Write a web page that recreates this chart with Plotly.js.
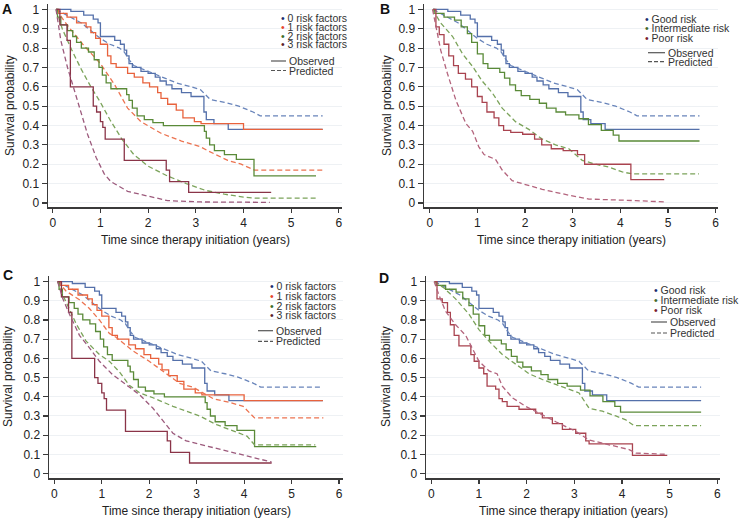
<!DOCTYPE html>
<html>
<head>
<meta charset="utf-8">
<script src="https://cdn.plot.ly/plotly-3.0.1.min.js"></script>
<style>
  html, body { margin: 0; padding: 0; background: #fff; }
  #chart { width: 739px; height: 518px; }
</style>
</head>
<body>
<div id="chart"></div>
<script>
// ---- data (time in years, survival probability) ----
const panelLetters = ['A', 'B', 'C', 'D'];
const riskFactorLabels = ['0 risk factors', '1 risk factors', '2 risk factors', '3 risk factors'];
const riskGroupLabels = ['Good risk', 'Intermediate risk', 'Poor risk'];
const lineStyleLabels = ['Observed', 'Predicted'];
const xAxisTitle = 'Time since therapy initiation (years)';
const yAxisTitle = 'Survival probability';

// observed, good risk / 0 risk factors (same cohort in all panels)
const obsGoodT = [0.07, 0.38, 0.65, 0.85, 0.95, 1.0, 1.3, 1.42, 1.5, 1.55, 1.6, 1.67, 1.85, 2.0, 2.15, 2.25, 2.38, 2.5, 2.7, 2.9, 3.17, 3.22, 3.38, 3.68, 5.66];
const obsGoodS = [1.0, 0.99, 0.97, 0.95, 0.93, 0.86, 0.84, 0.82, 0.79, 0.76, 0.72, 0.70, 0.68, 0.67, 0.65, 0.63, 0.61, 0.59, 0.57, 0.55, 0.47, 0.43, 0.41, 0.38, 0.38];
const predGoodT = [0.07, 0.3, 0.6, 0.9, 1.0, 1.2, 1.4, 1.5, 1.6, 1.7, 2.0, 2.3, 2.6, 2.9, 3.1, 3.2, 3.3, 3.6, 3.9, 4.2, 4.35, 5.66];
const predGoodS = [1.0, 0.97, 0.93, 0.87, 0.85, 0.82, 0.80, 0.78, 0.74, 0.71, 0.68, 0.65, 0.62, 0.60, 0.585, 0.56, 0.535, 0.52, 0.50, 0.47, 0.45, 0.45];

// observed, 1 / 2 / 3 risk factors
const obs1T = [0.07, 0.12, 0.3, 0.5, 0.7, 0.8, 0.9, 1.0, 1.15, 1.22, 1.33, 1.57, 1.71, 1.89, 2.03, 2.2, 2.27, 2.41, 2.59, 2.73, 2.97, 3.11, 4.0, 5.66];
const obs1S = [1.0, 0.98, 0.96, 0.93, 0.91, 0.88, 0.85, 0.82, 0.76, 0.72, 0.70, 0.67, 0.65, 0.62, 0.60, 0.57, 0.54, 0.51, 0.48, 0.44, 0.42, 0.41, 0.38, 0.38];
const obs2T = [0.07, 0.1, 0.17, 0.31, 0.42, 0.5, 0.6, 0.75, 0.87, 0.97, 1.04, 1.12, 1.22, 1.55, 1.6, 1.67, 1.77, 1.92, 2.1, 2.32, 3.18, 3.22, 3.29, 3.39, 3.6, 3.85, 4.22, 5.52];
const obs2S = [1.0, 0.96, 0.92, 0.89, 0.86, 0.83, 0.80, 0.78, 0.74, 0.70, 0.66, 0.62, 0.59, 0.56, 0.53, 0.49, 0.45, 0.43, 0.415, 0.40, 0.37, 0.335, 0.30, 0.27, 0.25, 0.225, 0.14, 0.14];
const obs3T = [0.07, 0.15, 0.3, 0.37, 0.85, 0.92, 1.0, 1.05, 1.1, 1.5, 2.38, 2.45, 2.85, 4.58];
const obs3S = [1.0, 0.92, 0.84, 0.6, 0.5, 0.47, 0.42, 0.39, 0.33, 0.22, 0.17, 0.11, 0.055, 0.055];

// predicted, original model (panel A)
const predA1T = [0.07, 0.3, 0.63, 1.0, 1.3, 1.57, 1.85, 2.27, 2.7, 3.1, 3.25, 3.67, 3.95, 4.23, 5.66];
const predA1S = [1.0, 0.92, 0.82, 0.72, 0.61, 0.49, 0.42, 0.36, 0.32, 0.29, 0.27, 0.22, 0.20, 0.17, 0.17];
const predA2T = [0.07, 0.2, 0.4, 0.6, 0.8, 1.0, 1.2, 1.45, 1.7, 2.0, 2.4, 2.8, 3.2, 3.6, 4.0, 4.25, 5.52];
const predA2S = [1.0, 0.9, 0.79, 0.69, 0.6, 0.52, 0.43, 0.33, 0.25, 0.19, 0.14, 0.1, 0.065, 0.045, 0.03, 0.025, 0.025];
const predA3T = [0.07, 0.17, 0.31, 0.52, 0.73, 0.91, 1.08, 1.22, 1.57, 2.0, 2.41, 3.1, 4.55];
const predA3S = [1.0, 0.84, 0.70, 0.53, 0.355, 0.235, 0.15, 0.11, 0.06, 0.035, 0.012, 0.005, 0.003];

// predicted, recalibrated model (panel C)
const predC1T = [0.07, 0.25, 0.53, 0.74, 0.95, 1.16, 1.3, 1.65, 2.0, 2.36, 2.64, 2.92, 3.06, 3.35, 3.7, 3.98, 4.22, 5.67];
const predC1S = [1.0, 0.95, 0.905, 0.86, 0.80, 0.73, 0.71, 0.64, 0.585, 0.52, 0.47, 0.45, 0.43, 0.39, 0.37, 0.35, 0.29, 0.29];
const predC2T = [0.07, 0.18, 0.46, 0.67, 0.95, 1.16, 1.37, 1.58, 1.8, 2.08, 2.5, 2.78, 3.06, 3.42, 3.77, 4.06, 4.22, 5.5];
const predC2S = [1.0, 0.93, 0.78, 0.69, 0.62, 0.585, 0.53, 0.46, 0.42, 0.395, 0.35, 0.325, 0.30, 0.255, 0.22, 0.195, 0.15, 0.15];
const predC3T = [0.07, 0.18, 0.32, 0.53, 0.74, 0.95, 1.23, 1.51, 1.8, 2.08, 2.36, 2.5, 2.78, 3.2, 3.77, 4.19, 4.58];
const predC3S = [1.0, 0.91, 0.83, 0.72, 0.655, 0.585, 0.515, 0.465, 0.41, 0.34, 0.255, 0.21, 0.17, 0.145, 0.11, 0.085, 0.06];

// observed, intermediate / poor risk groups
const obsIntT = [0.07, 0.1, 0.3, 0.52, 0.66, 0.79, 0.88, 1.0, 1.12, 1.22, 1.47, 1.57, 1.68, 1.8, 1.92, 2.1, 2.3, 2.45, 2.65, 2.85, 3.13, 3.33, 3.6, 3.85, 3.97, 5.66];
const obsIntS = [1.0, 0.98, 0.96, 0.945, 0.91, 0.875, 0.83, 0.77, 0.72, 0.695, 0.675, 0.645, 0.61, 0.58, 0.555, 0.535, 0.515, 0.49, 0.47, 0.455, 0.435, 0.405, 0.375, 0.35, 0.32, 0.32];
const obsPoorBT = [0.07, 0.13, 0.2, 0.3, 0.4, 0.5, 0.6, 0.75, 0.88, 1.0, 1.1, 1.2, 1.35, 1.45, 1.55, 1.7, 1.95, 2.2, 2.35, 2.55, 2.8, 3.1, 3.25, 4.22, 4.92];
const obsPoorBS = [1.0, 0.91, 0.87, 0.82, 0.76, 0.71, 0.67, 0.64, 0.60, 0.55, 0.52, 0.47, 0.44, 0.40, 0.375, 0.365, 0.355, 0.33, 0.30, 0.28, 0.27, 0.25, 0.20, 0.12, 0.12];
const obsPoorDT = [0.07, 0.12, 0.23, 0.34, 0.4, 0.48, 0.58, 0.83, 0.9, 1.0, 1.1, 1.17, 1.35, 1.42, 1.49, 1.59, 1.84, 2.19, 2.33, 2.54, 2.75, 3.03, 3.24, 3.31, 4.22, 4.95];
const obsPoorDS = [1.0, 0.91, 0.89, 0.84, 0.775, 0.72, 0.665, 0.62, 0.585, 0.55, 0.52, 0.455, 0.44, 0.39, 0.375, 0.35, 0.335, 0.315, 0.29, 0.26, 0.23, 0.21, 0.17, 0.155, 0.095, 0.095];

// predicted, risk groups (B = original, D = recalibrated)
const predBIntT = [0.06, 0.23, 0.48, 0.69, 0.9, 1.1, 1.31, 1.52, 1.8, 2.08, 2.36, 2.64, 2.92, 3.2, 3.48, 3.76, 4.04, 4.25, 5.65];
const predBIntS = [1.0, 0.93, 0.86, 0.77, 0.705, 0.63, 0.57, 0.49, 0.42, 0.38, 0.33, 0.30, 0.28, 0.22, 0.20, 0.185, 0.16, 0.15, 0.15];
const predBPoorT = [0.06, 0.13, 0.23, 0.37, 0.55, 0.76, 0.9, 1.03, 1.14, 1.38, 1.52, 1.73, 2.01, 2.36, 2.92, 3.34, 4.32, 4.95];
const predBPoorS = [1.0, 0.91, 0.79, 0.67, 0.53, 0.41, 0.37, 0.29, 0.25, 0.225, 0.17, 0.115, 0.095, 0.07, 0.04, 0.02, 0.012, 0.005];
const predDIntT = [0.06, 0.25, 0.51, 0.79, 1.0, 1.21, 1.49, 1.77, 2.05, 2.33, 2.61, 2.89, 3.1, 3.31, 3.59, 3.87, 4.08, 4.25, 5.66];
const predDIntS = [1.0, 0.97, 0.91, 0.83, 0.75, 0.69, 0.62, 0.57, 0.52, 0.49, 0.465, 0.44, 0.42, 0.34, 0.325, 0.30, 0.28, 0.25, 0.25];
const predDPoorT = [0.06, 0.16, 0.3, 0.51, 0.72, 0.86, 1.0, 1.21, 1.38, 1.49, 1.7, 1.98, 2.33, 2.61, 3.03, 3.31, 3.73, 4.15, 4.29, 4.95];
const predDPoorS = [1.0, 0.93, 0.845, 0.775, 0.72, 0.655, 0.585, 0.535, 0.52, 0.455, 0.395, 0.35, 0.305, 0.27, 0.22, 0.175, 0.15, 0.125, 0.107, 0.10];

// ---- styling ----
const W = 739, H = 518;
const FONT = 'Liberation Sans, Arial, Helvetica, sans-serif';
const px = (v) => v / W;
const py = (v) => 1 - v / H;

const C_BLUE = '#5470aa', C_BLUE_D = '#6884ba';
const C_ORANGE = '#e8623c', C_ORANGE_D = '#ec7350';
const C_GREEN = '#5a8a38', C_GREEN_D = '#7ba35a';
const C_MAROON = '#8a3448', C_PURPLE_D = '#9c5a7c';
const C_RED = '#a9434f', C_RED_D = '#b3637c';

// pixel geometry of each panel (axis box), plus where the legend sits
const panels = [
  { xa: 'x',  ya: 'y',  left: 48,  right: 342, top: 4,   bottom: 207, xr: [-0.099, 6.065], yr: [-0.021, 1.028],
    letter: [7, 9], xt: [195, 240], yt: [10, 106], dotX: 279.5, rows: [18.3, 26.7, 35.5, 44.0], lineX: [271, 286], styleY: [61, 70.5],
    labels: riskFactorLabels, dots: ['#1d2f6f', '#e8452c', '#3f6e2a', '#5c1f2d'] },
  { xa: 'x2', ya: 'y2', left: 424, right: 718, top: 4,   bottom: 207, xr: [-0.12, 6.048], yr: [-0.021, 1.028],
    letter: [385, 9], xt: [571, 240], yt: [387, 106], dotX: 644, rows: [19, 28, 37.7], lineX: [648, 665], styleY: [52.7, 61.7],
    labels: riskGroupLabels, dots: ['#1d2f6f', '#44692a', '#7a2030'] },
  { xa: 'x3', ya: 'y3', left: 49,  right: 343, top: 276, bottom: 478, xr: [-0.112, 6.084], yr: [-0.023, 1.029],
    letter: [8, 275], xt: [196, 511], yt: [8, 377], dotX: 268.7, rows: [286.3, 296.3, 306.3, 315.3], lineX: [258, 273], styleY: [330.7, 341.3],
    labels: riskFactorLabels, dots: ['#1d2f6f', '#e8452c', '#3f6e2a', '#5c1f2d'] },
  { xa: 'x4', ya: 'y4', left: 426, right: 720, top: 276, bottom: 478, xr: [-0.111, 6.056], yr: [-0.023, 1.029],
    letter: [384, 278], xt: [573, 511], yt: [386, 377], dotX: 653, rows: [290.3, 299.7, 309.7], lineX: [651, 667], styleY: [322, 333],
    labels: riskGroupLabels, dots: ['#1d2f6f', '#44692a', '#7a2030'] },
];

// which curves go in which panel: [t, s, color, dashed]
const curves = [
  [[obsGoodT, obsGoodS, C_BLUE, false], [predGoodT, predGoodS, C_BLUE_D, true],
   [obs1T, obs1S, C_ORANGE, false], [predA1T, predA1S, C_ORANGE_D, true],
   [obs2T, obs2S, C_GREEN, false], [predA2T, predA2S, C_GREEN_D, true],
   [obs3T, obs3S, C_MAROON, false], [predA3T, predA3S, C_PURPLE_D, true]],
  [[obsGoodT, obsGoodS, C_BLUE, false], [predGoodT, predGoodS, C_BLUE_D, true],
   [obsIntT, obsIntS, C_GREEN, false], [predBIntT, predBIntS, C_GREEN_D, true],
   [obsPoorBT, obsPoorBS, C_RED, false], [predBPoorT, predBPoorS, C_RED_D, true]],
  [[obsGoodT, obsGoodS, C_BLUE, false], [predGoodT, predGoodS, C_BLUE_D, true],
   [obs1T, obs1S, C_ORANGE, false], [predC1T, predC1S, C_ORANGE_D, true],
   [obs2T, obs2S, C_GREEN, false], [predC2T, predC2S, C_GREEN_D, true],
   [obs3T, obs3S, C_MAROON, false], [predC3T, predC3S, C_PURPLE_D, true]],
  [[obsGoodT, obsGoodS, C_BLUE, false], [predGoodT, predGoodS, C_BLUE_D, true],
   [obsIntT, obsIntS, C_GREEN, false], [predDIntT, predDIntS, C_GREEN_D, true],
   [obsPoorDT, obsPoorDS, C_RED, false], [predDPoorT, predDPoorS, C_RED_D, true]],
];

const traces = [];
const layout = {
  width: W, height: H,
  margin: { l: 0, r: 0, t: 0, b: 0 },
  paper_bgcolor: '#fff', plot_bgcolor: '#fff',
  showlegend: false,
  font: { family: FONT, size: 12, color: '#222' },
  annotations: [],
  shapes: [],
};

panels.forEach((p, i) => {
  curves[i].forEach(([t, s, color, dashed]) => {
    traces.push({
      x: t, y: s, xaxis: p.xa, yaxis: p.ya,
      type: 'scatter', mode: 'lines',
      line: { color: color, width: 1.3, shape: dashed ? 'linear' : 'hv', dash: dashed ? '5px,3px' : 'solid' },
      hoverinfo: 'skip',
    });
  });

  const suffix = i === 0 ? '' : String(i + 1);
  layout['xaxis' + suffix] = {
    domain: [px(p.left), px(p.right)], range: p.xr, anchor: p.ya,
    showline: true, linecolor: '#3a3a3a', linewidth: 1.5,
    ticks: 'outside', ticklen: 4, tickwidth: 1.2, tickcolor: '#3a3a3a',
    tick0: 0, dtick: 1, showgrid: false, zeroline: false,
    tickfont: { size: 12, color: '#222' },
  };
  layout['yaxis' + suffix] = {
    domain: [py(p.bottom), py(p.top)], range: p.yr, anchor: p.xa,
    showline: true, linecolor: '#3a3a3a', linewidth: 1.5,
    ticks: 'outside', ticklen: 5, tickwidth: 1.2, tickcolor: '#3a3a3a',
    tick0: 0, dtick: 0.1, showgrid: true, gridcolor: '#eef1f4', gridwidth: 1, zeroline: false,
    tickfont: { size: 12, color: '#222' },
  };

  // panel letter
  layout.annotations.push({
    xref: 'paper', yref: 'paper', x: px(p.letter[0]), y: py(p.letter[1]),
    xanchor: 'center', yanchor: 'middle', showarrow: false,
    text: '<b>' + panelLetters[i] + '</b>', font: { size: 14, color: '#111' },
  });
  // axis titles
  layout.annotations.push({
    xref: 'paper', yref: 'paper', x: px(p.xt[0]), y: py(p.xt[1]),
    xanchor: 'center', yanchor: 'middle', showarrow: false,
    text: xAxisTitle, font: { size: 12, color: '#222' },
  });
  layout.annotations.push({
    xref: 'paper', yref: 'paper', x: px(p.yt[0]), y: py(p.yt[1]),
    xanchor: 'center', yanchor: 'middle', showarrow: false, textangle: -90,
    text: yAxisTitle, font: { size: 12, color: '#222' },
  });

  // legend: coloured dots + group names
  p.labels.forEach((lab, k) => {
    layout.annotations.push({
      xref: 'paper', yref: 'paper', x: px(p.dotX), y: py(p.rows[k]),
      xanchor: 'left', yanchor: 'middle', showarrow: false, borderpad: 0,
      text: '<span style="color:' + p.dots[k] + '">•</span> ' + lab,
      font: { size: 10.5, color: '#333' },
    });
  });
  // legend: observed / predicted line samples
  lineStyleLabels.forEach((lab, k) => {
    layout.shapes.push({
      type: 'line', xref: 'paper', yref: 'paper',
      x0: px(p.lineX[0]), x1: px(p.lineX[1]), y0: py(p.styleY[k]), y1: py(p.styleY[k]),
      line: { color: '#555', width: 1.2, dash: k === 0 ? 'solid' : '4px,2px' },
    });
    layout.annotations.push({
      xref: 'paper', yref: 'paper', x: px(p.lineX[1] + 1.5), y: py(p.styleY[k]),
      xanchor: 'left', yanchor: 'middle', showarrow: false, borderpad: 0,
      text: lab, font: { size: 10.5, color: '#333' },
    });
  });
});

Plotly.newPlot('chart', traces, layout, { staticPlot: true, displayModeBar: false });
</script>
</body>
</html>
